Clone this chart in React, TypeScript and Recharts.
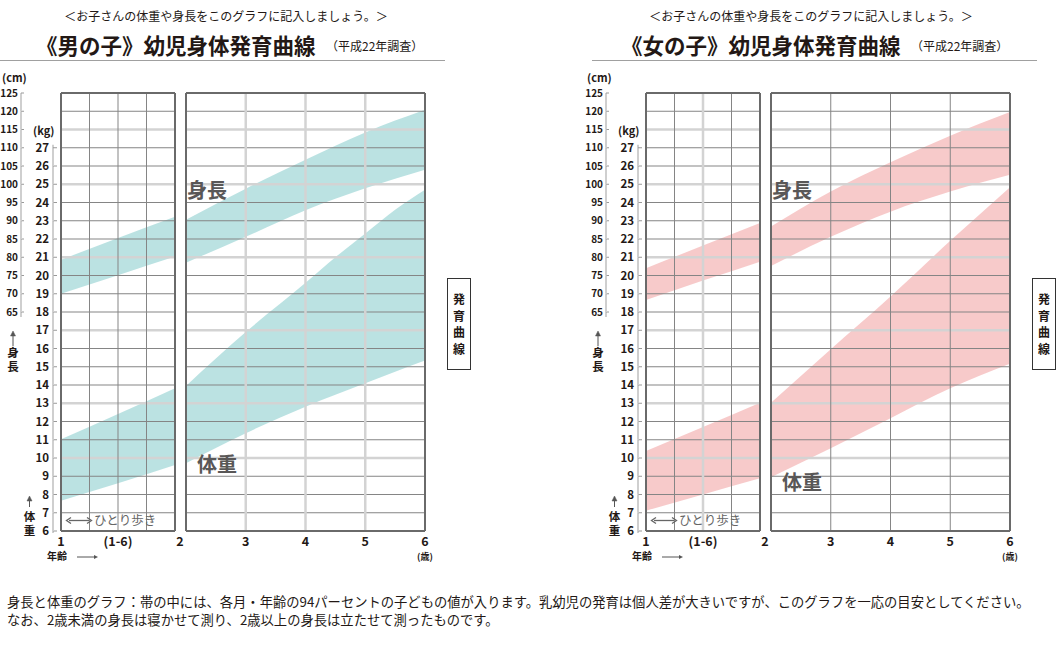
import React from "react";
import { ComposedChart, Area, XAxis, YAxis, ReferenceLine } from "recharts";

// ages (years)
const infantAges = [1, 1.5, 2];
const childAges = [2, 3, 4, 5, 6];
const boyWeightAges = [2, 3, 4, 4.5, 5, 5.5, 6];

// boys (cm / kg), 3rd–97th percentile band
const boyInfantHeightLow = [70.0, 75.1, 80.2];
const boyInfantHeightHigh = [79.3, 85.3, 91.1];
const boyInfantWeightLow = [7.66, 8.61, 9.62];
const boyInfantWeightHigh = [11.03, 12.41, 13.82];
const boyChildHeightLow = [78.5, 85.6, 92.9, 98.9, 104.0];
const boyChildHeightHigh = [90.3, 98.8, 106.7, 114.2, 120.4];
const boyChildWeightLow = [9.71, 11.36, 12.81, 13.46, 14.09, 14.73, 15.34];
const boyChildWeightHigh = [13.95, 16.9, 19.6, 21.0, 22.3, 23.6, 24.7];

// girls
const girlInfantHeightLow = [68.3, 73.6, 78.8];
const girlInfantHeightHigh = [77.0, 83.2, 89.4];
const girlInfantWeightLow = [7.11, 8.0, 8.89];
const girlInfantWeightHigh = [10.39, 11.7, 13.03];
const girlChildHeightLow = [77.6, 85.6, 92.5, 98.0, 102.6];
const girlChildHeightHigh = [88.4, 98.0, 106.0, 113.3, 119.8];
const girlChildWeightLow = [8.94, 10.53, 12.18, 13.82, 15.16];
const girlChildWeightHigh = [13.03, 15.96, 18.85, 21.9, 24.84];

// axes
const kgTicks = [6, 7, 8, 9, 10, 11, 12, 13, 14, 15, 16, 17, 18, 19, 20, 21, 22, 23, 24, 25, 26, 27];
const cmTicks = [65, 70, 75, 80, 85, 90, 95, 100, 105, 110, 115, 120, 125];
const kgRows = [7, 8, 9, 10, 11, 12, 13, 14, 15, 16, 17, 18, 19, 20, 21, 22, 23, 24, 25, 26, 27, 28, 29];
const lightRows = [10, 13, 17, 21, 25, 28];
const infantTicks = [1, 1.5];
const childTicks = [2, 3, 4, 5, 6];
const infantCols = [1.25, 1.5, 1.75];
const childCols = [3, 4, 5];

const KG_DOMAIN: [number, number] = [6, 30];
const CM_DOMAIN: [number, number] = [5, 125];
const PLOT_TOP = 93;
const PLOT_BOTTOM = 531;
const CHART_H = 560;
const CM_W = 22; // cm axis strip
const KG_W = 39; // kg axis strip, next to the plot
const ROW = (PLOT_BOTTOM - PLOT_TOP) / (KG_DOMAIN[1] - KG_DOMAIN[0]);

const FONT = '"Noto Sans CJK JP", "Noto Sans", sans-serif';
const INK = "#231815";
const DARK = "#858585";
const LIGHT = "#d3d3d3";
const BORDER = "#6a6a6a";

type Band = { age: number; range: [number, number] };
const band = (ages: number[], lo: number[], hi: number[]): Band[] =>
  ages.map((age, i) => ({ age, range: [lo[i], hi[i]] }));

// the two left axes stack in an order recharts picks, so anchor them to the strips
function KgTick(props: any) {
  const { y, payload } = props;
  const x = CM_W + KG_W;
  const v = payload.value as number;
  const top = v === kgTicks[kgTicks.length - 1] ? y - 3 : y;
  const bottom = v === kgTicks[0] ? y + 2 : y + ROW;
  return (
    <g>
      <line x1={x - 8} x2={x - 8} y1={top} y2={bottom} stroke="#cfcfcf" strokeWidth={2} />
      <line x1={x - 8} x2={x - 4} y1={y} y2={y} stroke="#999" strokeWidth={1} />
      <text x={x - 12} y={y} dy="0.36em" textAnchor="end" fontSize={11.5} fontWeight={700} fill={INK} fontFamily={FONT}>
        {v}
      </text>
    </g>
  );
}

function CmTick(props: any) {
  const { y, payload } = props;
  const x = CM_W;
  const v = payload.value as number;
  const bottom = v === cmTicks[0] ? y + 5 : y + ROW;
  return (
    <g>
      <line x1={x - 1} x2={x - 1} y1={y} y2={bottom} stroke="#cfcfcf" strokeWidth={2} />
      <line x1={x - 1} x2={x + 2} y1={y} y2={y} stroke="#999" strokeWidth={1} />
      <text x={x - 4} y={y} dy="0.36em" textAnchor="end" fontSize={10} fontWeight={700} fill={INK} fontFamily={FONT}>
        {v}
      </text>
    </g>
  );
}

function AgeTick(props: any) {
  const { x, y, payload } = props;
  const v = payload.value as number;
  const label = v === 1.5 ? "(1-6)" : String(v);
  const shift = v === 2 ? -6 : 0;
  return (
    <text x={x + shift} y={y + 10} dy="0.36em" textAnchor="middle" fontSize={12.5} fontWeight={700} fill={INK} fontFamily={FONT}>
      {label}
    </text>
  );
}

function Grid({ cols, lightCols, x0, x1 }: { cols: number[]; lightCols: number[]; x0: number; x1: number }) {
  return (
    <>
      {kgRows.map((v) => (
        <ReferenceLine
          key={"h" + v}
          yAxisId="kg"
          y={v}
          stroke={lightRows.includes(v) ? LIGHT : DARK}
          strokeWidth={lightRows.includes(v) ? 2.5 : 1}
        />
      ))}
      {cols.map((v) => (
        <ReferenceLine
          key={"v" + v}
          yAxisId="kg"
          x={v}
          stroke={lightCols.includes(v) ? LIGHT : DARK}
          strokeWidth={lightCols.includes(v) ? 2.5 : 1}
        />
      ))}
      <ReferenceLine yAxisId="kg" y={KG_DOMAIN[0]} stroke={BORDER} strokeWidth={2} />
      <ReferenceLine yAxisId="kg" y={KG_DOMAIN[1]} stroke={BORDER} strokeWidth={2} />
      <ReferenceLine yAxisId="kg" x={x0} stroke={BORDER} strokeWidth={2} />
      <ReferenceLine yAxisId="kg" x={x1} stroke={BORDER} strokeWidth={2} />
    </>
  );
}

type PanelProps = {
  left: number;
  gender: string;
  color: string;
  infantHeight: Band[];
  infantWeight: Band[];
  childHeight: Band[];
  childWeight: Band[];
  infantLight: number[];
  childLight: number[];
  lineStart: number;
  heightLabel: { x: number; y: number };
  weightLabel: { x: number; y: number };
};

function UpArrow({ x, y1, y2 }: { x: number; y1: number; y2: number }) {
  return (
    <g stroke="#555" fill="#555">
      <line x1={x} x2={x} y1={y1} y2={y2 + 3} strokeWidth={1} />
      <path d={`M${x - 2.5},${y2 + 5} L${x},${y2} L${x + 2.5},${y2 + 5} Z`} strokeWidth={0.5} />
    </g>
  );
}

function GrowthPanel(p: PanelProps) {
  const areaProps = {
    dataKey: "range",
    type: "monotone" as const,
    stroke: "none",
    fill: p.color,
    fillOpacity: 0.7,
    isAnimationActive: false,
  };
  const txt = { fontFamily: FONT, fill: INK };
  return (
    <div style={{ position: "absolute", left: p.left, top: 0, width: 475, height: 654 }}>
      <div style={{ position: "absolute", left: 0, top: 0 }}>
        <ComposedChart width={185} height={CHART_H} margin={{ top: PLOT_TOP, right: 10, bottom: 0, left: 0 }}>
          <XAxis
            type="number"
            dataKey="age"
            domain={[1, 2]}
            ticks={infantTicks}
            interval={0}
            height={CHART_H - PLOT_BOTTOM}
            axisLine={false}
            tickLine={false}
            tickSize={0}
            tickMargin={0}
            tick={AgeTick}
            allowDataOverflow
          />
          <YAxis yAxisId="cm" type="number" domain={CM_DOMAIN} ticks={cmTicks} interval={0} width={CM_W}
            axisLine={false} tickLine={false} tickSize={0} tickMargin={0} tick={CmTick} allowDataOverflow />
          <YAxis yAxisId="kg" type="number" domain={KG_DOMAIN} ticks={kgTicks} interval={0} width={KG_W}
            axisLine={false} tickLine={false} tickSize={0} tickMargin={0} tick={KgTick} allowDataOverflow />
          {Grid({ cols: infantCols, lightCols: p.infantLight, x0: 1, x1: 2 })}
          <Area yAxisId="cm" data={p.infantHeight} {...areaProps} />
          <Area yAxisId="kg" data={p.infantWeight} {...areaProps} />
        </ComposedChart>
      </div>
      <div style={{ position: "absolute", left: 176, top: 0 }}>
        <ComposedChart width={274} height={CHART_H} margin={{ top: PLOT_TOP, right: 25, bottom: 0, left: 10 }}>
          <XAxis
            type="number"
            dataKey="age"
            domain={[2, 6]}
            ticks={childTicks}
            interval={0}
            height={CHART_H - PLOT_BOTTOM}
            axisLine={false}
            tickLine={false}
            tickSize={0}
            tickMargin={0}
            tick={AgeTick}
            allowDataOverflow
          />
          <YAxis yAxisId="kg" type="number" domain={KG_DOMAIN} hide allowDataOverflow />
          <YAxis yAxisId="cm" type="number" domain={CM_DOMAIN} hide allowDataOverflow />
          {Grid({ cols: childCols, lightCols: p.childLight, x0: 2, x1: 6 })}
          <Area yAxisId="cm" data={p.childHeight} {...areaProps} />
          <Area yAxisId="kg" data={p.childWeight} {...areaProps} />
        </ComposedChart>
      </div>
      <svg width={475} height={654} style={{ position: "absolute", left: 0, top: 0, pointerEvents: "none" }}>
        <text x={226} y={21} textAnchor="middle" fontSize={12} {...txt}>
          {"＜お子さんの体重や身長をこのグラフに記入しましょう。＞"}
        </text>
        <text x={36} y={54} fontSize={21.5} fontWeight={700} {...txt}>
          {`《${p.gender}》幼児身体発育曲線`}
        </text>
        <text x={326} y={51} fontSize={12} {...txt}>
          （平成22年調査）
        </text>
        <line x1={p.lineStart} x2={p.lineStart + 445} y1={60.5} y2={60.5} stroke="#a0a0a0" strokeWidth={1} />
        <text x={2} y={82} fontSize={11} fontWeight={700} {...txt}>(cm)</text>
        <text x={33} y={135} fontSize={11} fontWeight={700} {...txt}>(kg)</text>

        <UpArrow x={13} y1={346} y2={331} />
        <text x={13} y={357} textAnchor="middle" fontSize={11.5} fontWeight={700} {...txt}>身</text>
        <text x={13} y={371} textAnchor="middle" fontSize={11.5} fontWeight={700} {...txt}>長</text>
        <UpArrow x={29.5} y1={507} y2={496} />
        <text x={29.5} y={520.5} textAnchor="middle" fontSize={11.5} fontWeight={700} {...txt}>体</text>
        <text x={29.5} y={535} textAnchor="middle" fontSize={11.5} fontWeight={700} {...txt}>重</text>

        <text x={57} y={560} textAnchor="middle" fontSize={10} fontWeight={700} {...txt}>年齢</text>
        <line x1={77} x2={96} y1={557} y2={557} stroke="#555" strokeWidth={1} />
        <path d="M94,555 L98,557 L94,559 Z" fill="#555" />
        <text x={425} y={560} textAnchor="middle" fontSize={9} fontWeight={700} {...txt}>(歳)</text>

        <line x1={69} x2={89} y1={520.5} y2={520.5} stroke="#666" strokeWidth={1.3} />
        <path d="M71,517.5 L66.5,520.5 L71,523.5" fill="none" stroke="#666" strokeWidth={1.3} />
        <path d="M87,517.5 L91.5,520.5 L87,523.5" fill="none" stroke="#666" strokeWidth={1.3} />
        <text x={94} y={525} fontSize={12.5} fill="#666" fontFamily={FONT}>ひとり歩き</text>

        <text x={p.heightLabel.x} y={p.heightLabel.y} fontSize={20} fontWeight={700} fill="#595757" fontFamily={FONT}>身長</text>
        <text x={p.weightLabel.x} y={p.weightLabel.y} fontSize={20} fontWeight={700} fill="#595757" fontFamily={FONT}>体重</text>

        <rect x={447.5} y={278.5} width={23} height={91} fill="#fff" stroke="#333" strokeWidth={1} />
        {"発育曲線".split("").map((c, i) => (
          <text key={c} x={459} y={304 + i * 16.5} textAnchor="middle" fontSize={12} fontWeight={700} {...txt}>
            {c}
          </text>
        ))}
      </svg>
    </div>
  );
}

export default function App() {
  return (
    <div style={{ position: "relative", width: 1056, height: 654, overflow: "hidden", background: "#fff", fontFamily: FONT }}>
      <style>{"body{margin:0}"}</style>
      <GrowthPanel
        left={0}
        gender="男の子"
        color="#9ed6d6"
        infantHeight={band(infantAges, boyInfantHeightLow, boyInfantHeightHigh)}
        infantWeight={band(infantAges, boyInfantWeightLow, boyInfantWeightHigh)}
        childHeight={band(childAges, boyChildHeightLow, boyChildHeightHigh)}
        childWeight={band(boyWeightAges, boyChildWeightLow, boyChildWeightHigh)}
        infantLight={[]}
        childLight={childCols}
        lineStart={0}
        heightLabel={{ x: 187, y: 198 }}
        weightLabel={{ x: 197, y: 472 }}
      />
      <GrowthPanel
        left={585}
        gender="女の子"
        color="#f4b3b3"
        infantHeight={band(infantAges, girlInfantHeightLow, girlInfantHeightHigh)}
        infantWeight={band(infantAges, girlInfantWeightLow, girlInfantWeightHigh)}
        childHeight={band(childAges, girlChildHeightLow, girlChildHeightHigh)}
        childWeight={band(childAges, girlChildWeightLow, girlChildWeightHigh)}
        infantLight={[1.5]}
        childLight={[]}
        lineStart={7}
        heightLabel={{ x: 187, y: 198 }}
        weightLabel={{ x: 197, y: 490 }}
      />
      <svg width={1056} height={60} style={{ position: "absolute", left: 0, top: 588 }}>
        <text x={7} y={19} fontSize={13.3} fill={INK} fontFamily={FONT}>
          身長と体重のグラフ：帯の中には、各月・年齢の94パーセントの子どもの値が入ります。乳幼児の発育は個人差が大きいですが、このグラフを一応の目安としてください。
        </text>
        <text x={7} y={37} fontSize={13.3} fill={INK} fontFamily={FONT}>
          なお、2歳未満の身長は寝かせて測り、2歳以上の身長は立たせて測ったものです。
        </text>
      </svg>
    </div>
  );
}
